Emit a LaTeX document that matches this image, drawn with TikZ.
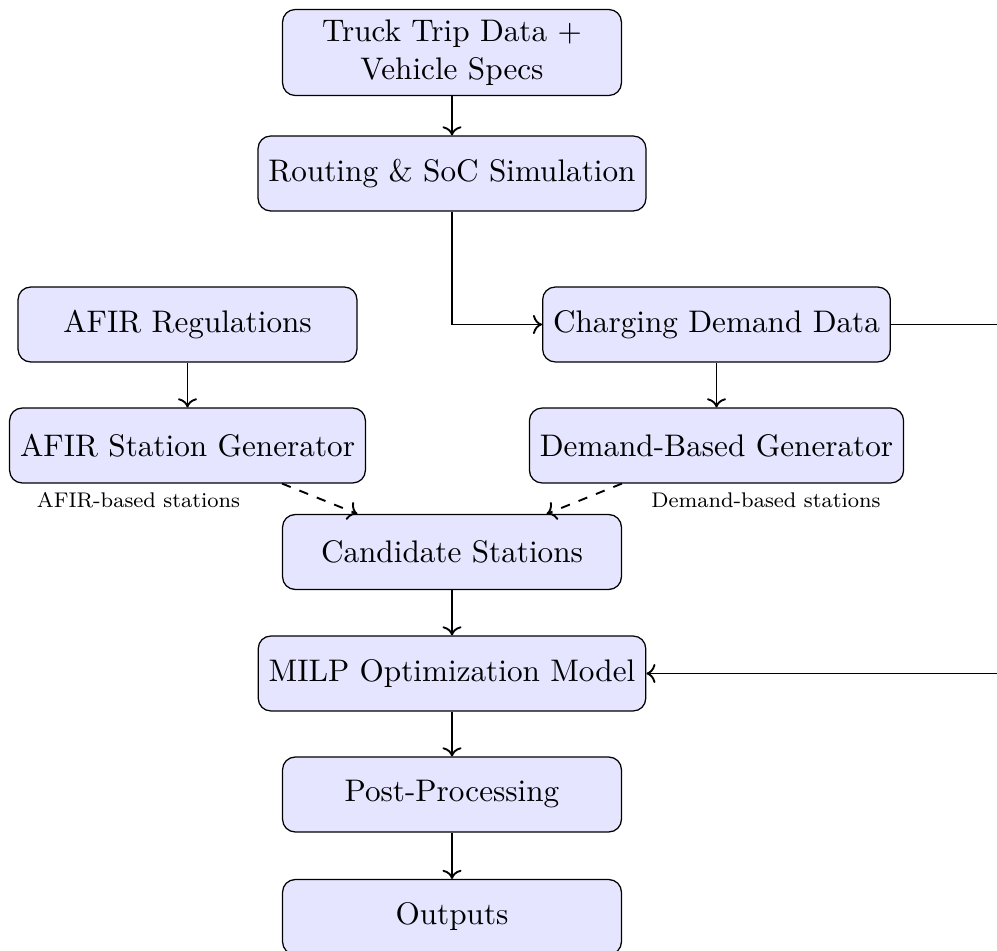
\documentclass[tikz,border=0pt]{standalone}
\usetikzlibrary{arrows.meta}
\begin{document}
\begin{tikzpicture}[x=0.3205pt,y=-0.3205pt,
  box/.style={draw, rounded corners=4pt, fill=blue!10, minimum width=108.6pt, minimum height=24pt, align=center, inner sep=3.33pt},
  conn/.style={semithick, ->},
  dconn/.style={semithick, dashed, ->},
  lbl/.style={font=\footnotesize, inner sep=0pt}]
\useasboundingbox (0,0) rectangle (997,951);
\clip (0,0) rectangle (997,951);
\node[box] (truck) at (452,52.5) {Truck Trip Data +\\Vehicle Specs};
\node[box] (route) at (452,173.5) {Routing \& SoC Simulation};
\node[box] (afirreg) at (187.5,324.5) {AFIR Regulations};
\node[box] (demand) at (716.5,324.5) {Charging Demand Data};
\node[box] (afirgen) at (187.5,445.5) {AFIR Station Generator};
\node[box] (dgen) at (716.5,445.5) {Demand-Based Generator};
\node[box] (cand) at (452,552) {Candidate Stations};
\node[box] (milp) at (452,673.5) {MILP Optimization Model};
\node[box] (post) at (452,794.5) {Post-Processing};
\node[box] (out) at (452,917) {Outputs};
\node[lbl] (lafir) at (138.5,500) {\scalebox{0.85}{AFIR-based stations}};
\node[lbl] (ldem) at (766,500) {\scalebox{0.85}{Demand-based stations}};
\coordinate (rtop) at (1015,324.5);
\coordinate (rbot) at (1015,673.5);
\draw[conn] (truck) -- (route);
\draw[conn] (route.south) |- (demand.west);
\draw[conn] (afirreg) -- (afirgen);
\draw[conn] (demand) -- (dgen);
\draw[dconn] (afirgen) -- (cand);
\draw[dconn] (dgen) -- (cand);
\draw[conn] (cand) -- (milp);
\draw[conn] (milp) -- (post);
\draw[conn] (post) -- (out);
\draw[conn] (demand.east) -- (rtop) -- (rbot) -- (milp.east);
\end{tikzpicture}
\end{document}
